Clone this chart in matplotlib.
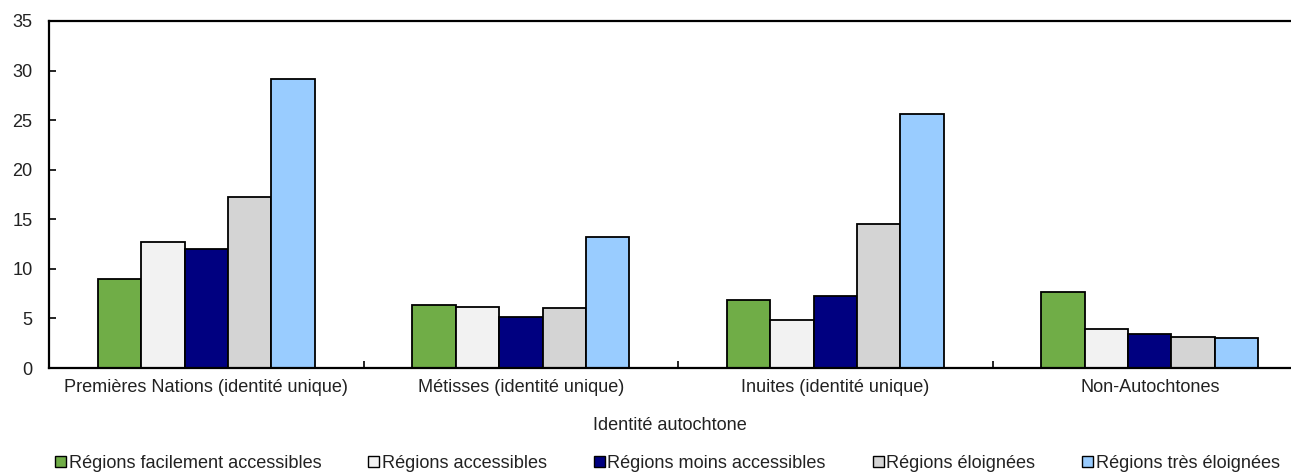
import matplotlib
matplotlib.use("Agg")
import matplotlib.pyplot as plt
import numpy as np

plt.rcParams['font.family'] = ['Liberation Sans', 'DejaVu Sans']

categories = ["Premières Nations (identité unique)", "Métisses (identité unique)",
              "Inuites (identité unique)", "Non-Autochtones"]
series_names = ["Régions facilement accessibles", "Régions accessibles",
                "Régions moins accessibles", "Régions éloignées", "Régions très éloignées"]
facilement = [9.0, 6.4, 6.9, 7.7]
accessibles = [12.7, 6.2, 4.8, 3.9]
moins = [12.0, 5.1, 7.3, 3.4]
eloignees = [17.2, 6.1, 14.5, 3.1]
tres_eloignees = [29.2, 13.2, 25.6, 3.0]
yticks = [0, 5, 10, 15, 20, 25, 30, 35]

series = [facilement, accessibles, moins, eloignees, tres_eloignees]
colors = ["#70AD47", "#F2F2F2", "#000080", "#D4D4D4", "#99CCFF"]
txt = "#222222"
fs = 13.1

fig = plt.figure(figsize=(12.91, 4.74), dpi=100)
ax = fig.add_axes([0.038, 0.2236, 0.962, 0.7321])

x = np.arange(len(categories))
w = 0.138
for i, (vals, c, name) in enumerate(zip(series, colors, series_names)):
    ax.bar(x + (i - 2) * w, vals, width=w, color=c, edgecolor="black",
           linewidth=1.3, label=name, zorder=2)

ax.set_xlim(-0.5, 3.449)
ax.set_ylim(0, 35)
ax.set_yticks(yticks)
ax.set_yticklabels([str(v) for v in yticks], fontsize=fs, color=txt)

# category labels centred under groups, ticks at group boundaries
ax.set_xticks(x)
ax.set_xticklabels(categories, fontsize=fs, color=txt)
ax.tick_params(axis="x", length=0, pad=8)
ax.set_xticks(x[:-1] + 0.5, minor=True)
ax.tick_params(axis="x", which="minor", direction="in", length=5, width=1.2)
ax.tick_params(axis="y", direction="in", length=5, width=1.2, pad=12)

for s in ["left", "bottom", "top"]:
    ax.spines[s].set_linewidth(1.6)
    ax.spines[s].set_color("black")
ax.spines["right"].set_visible(False)

ax.set_xlabel("Identité autochtone", fontsize=fs, color=txt, labelpad=15)

leg = fig.legend(loc="lower center", bbox_to_anchor=(0.517, -0.019), ncol=5,
                 frameon=False, fontsize=fs, handlelength=0.6, handleheight=0.6,
                 handletextpad=0.15, columnspacing=2.58, borderaxespad=0.2)
for t in leg.get_texts():
    t.set_color(txt)
for p in leg.get_patches():
    p.set_linewidth(1.0)

fig.savefig("out.png", dpi=100)
